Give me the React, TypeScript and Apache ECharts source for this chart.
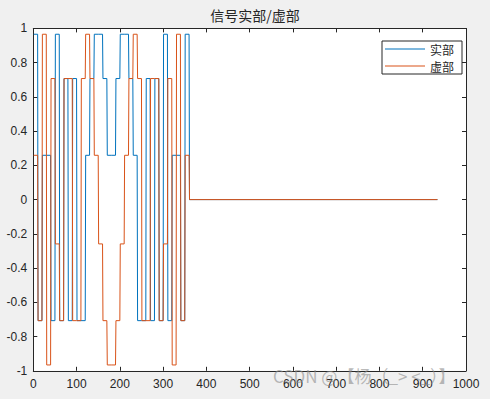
import React, { useEffect, useRef } from "react";
import * as echarts from "echarts";

// Symbol values (each held for 10 samples)
const realSymbols = [
  0.9659, -0.7071, 0.2588, 0.2588, -0.7071, 0.9659, -0.7071, 0.7071, -0.7071, 0.7071,
  -0.7071, -0.7071, 0.2588, 0.7071, 0.9659, 0.9659, 0.7071, 0.2588, 0.2588, 0.7071,
  0.9659, 0.9659, 0.7071, 0.2588, -0.7071, -0.7071, 0.7071, -0.7071, 0.7071, -0.7071,
  0.9659, -0.7071, 0.2588, 0.2588, -0.7071, 0.9659,
];
const imagSymbols = [
  0.2588, -0.7071, 0.9659, -0.9659, 0.7071, -0.2588, -0.7071, 0.7071, 0.7071, -0.7071,
  -0.7071, 0.7071, 0.9659, 0.7071, 0.2588, -0.2588, -0.7071, -0.9659, -0.9659, -0.7071,
  -0.2588, 0.2588, 0.7071, 0.9659, 0.7071, -0.7071, -0.7071, 0.7071, 0.7071, -0.7071,
  -0.2588, 0.7071, -0.9659, 0.9659, -0.7071, 0.2588,
];
const samplesPerSymbol = 10;
const totalLength = 934;
const seriesNames = ["实部", "虚部"];
const seriesColors = ["#0072BD", "#D95319"];
const xTicks = { min: 0, max: 1000, interval: 100 };
const yTicks = { min: -1, max: 1, interval: 0.2 };

function buildPoints(symbols: number[]): number[][] {
  const pts: number[][] = [];
  symbols.forEach((v, k) => {
    pts.push([k * samplesPerSymbol + 1, v]);
    pts.push([k * samplesPerSymbol + samplesPerSymbol, v]);
  });
  pts.push([symbols.length * samplesPerSymbol + 1, 0]);
  pts.push([totalLength, 0]);
  return pts;
}

const AXIS_COLOR = "#262626";
const LABEL_FONT = "'Liberation Sans', Arial, sans-serif";
const CJK_FONT = "'Noto Sans CJK SC', sans-serif";

export default function App() {
  const ref = useRef<HTMLDivElement>(null);
  useEffect(() => {
    if (!ref.current) return;
    const chart = echarts.init(ref.current, undefined, { renderer: "svg" });
    const tickCommon = { inside: true, length: 4, lineStyle: { color: AXIS_COLOR, width: 1 } };
    const lineCommon = { show: true, onZero: false, lineStyle: { color: AXIS_COLOR, width: 1 } };
    chart.setOption({
      animation: false,
      backgroundColor: "#F0F0F0",
      title: {
        text: "信号实部/虚部",
        left: 250,
        textAlign: "center",
        top: 3,
        textStyle: { fontFamily: CJK_FONT, fontSize: 14, fontWeight: "normal", color: AXIS_COLOR },
      },
      legend: {
        orient: "vertical",
        left: 382,
        top: 41,
        data: seriesNames.map((n) => ({ name: n, icon: "rect" })),
        itemWidth: 40,
        itemHeight: 1,
        itemGap: 3,
        padding: [1, 8, 1, 3],
        backgroundColor: "#fff",
        borderColor: AXIS_COLOR,
        borderWidth: 1,
        borderRadius: 0,
        textStyle: { fontFamily: CJK_FONT, fontSize: 12, color: AXIS_COLOR, lineHeight: 14 },
      },
      grid: {
        left: 33.3,
        right: 24,
        top: 28.4,
        bottom: 28.2,
        show: true,
        backgroundColor: "#fff",
        borderWidth: 0,
      },
      xAxis: [
        {
          type: "value",
          position: "bottom",
          ...xTicks,
          axisLine: lineCommon,
          axisTick: tickCommon,
          splitLine: { show: false },
          axisLabel: {
            margin: 7,
            fontFamily: LABEL_FONT,
            fontSize: 12,
            color: AXIS_COLOR,
            formatter: (v: number) => String(v),
          },
        },
        {
          type: "value",
          position: "top",
          ...xTicks,
          axisLine: lineCommon,
          axisTick: tickCommon,
          splitLine: { show: false },
          axisLabel: { show: false },
        },
      ],
      yAxis: [
        {
          type: "value",
          position: "left",
          ...yTicks,
          axisLine: lineCommon,
          axisTick: tickCommon,
          splitLine: { show: false },
          axisLabel: {
            margin: 6,
            fontFamily: LABEL_FONT,
            fontSize: 12,
            color: AXIS_COLOR,
            formatter: (v: number) => String(Math.round(v * 10) / 10),
          },
        },
        {
          type: "value",
          position: "right",
          ...yTicks,
          axisLine: lineCommon,
          axisTick: tickCommon,
          splitLine: { show: false },
          axisLabel: { show: false },
        },
      ],
      graphic: [
        {
          type: "text",
          left: 273,
          top: 367,
          silent: true,
          z: 100,
          style: {
            text: "CSDN @【杨（_> <_）】",
            fontFamily: CJK_FONT,
            fontSize: 17,
            fill: "rgba(140,140,140,0.6)",
          },
        },
      ],
      series: [0, 1].map((i) => ({
        name: seriesNames[i],
        type: "line",
        data: buildPoints(i === 0 ? realSymbols : imagSymbols),
        symbol: "none",
        lineStyle: { color: seriesColors[i], width: 1 },
        itemStyle: { color: seriesColors[i] },
      })),
    });
    return () => chart.dispose();
  }, []);
  return (
    <div
      ref={ref}
      style={{ position: "fixed", left: 0, top: 0, width: 490, height: 399 }}
    />
  );
}
